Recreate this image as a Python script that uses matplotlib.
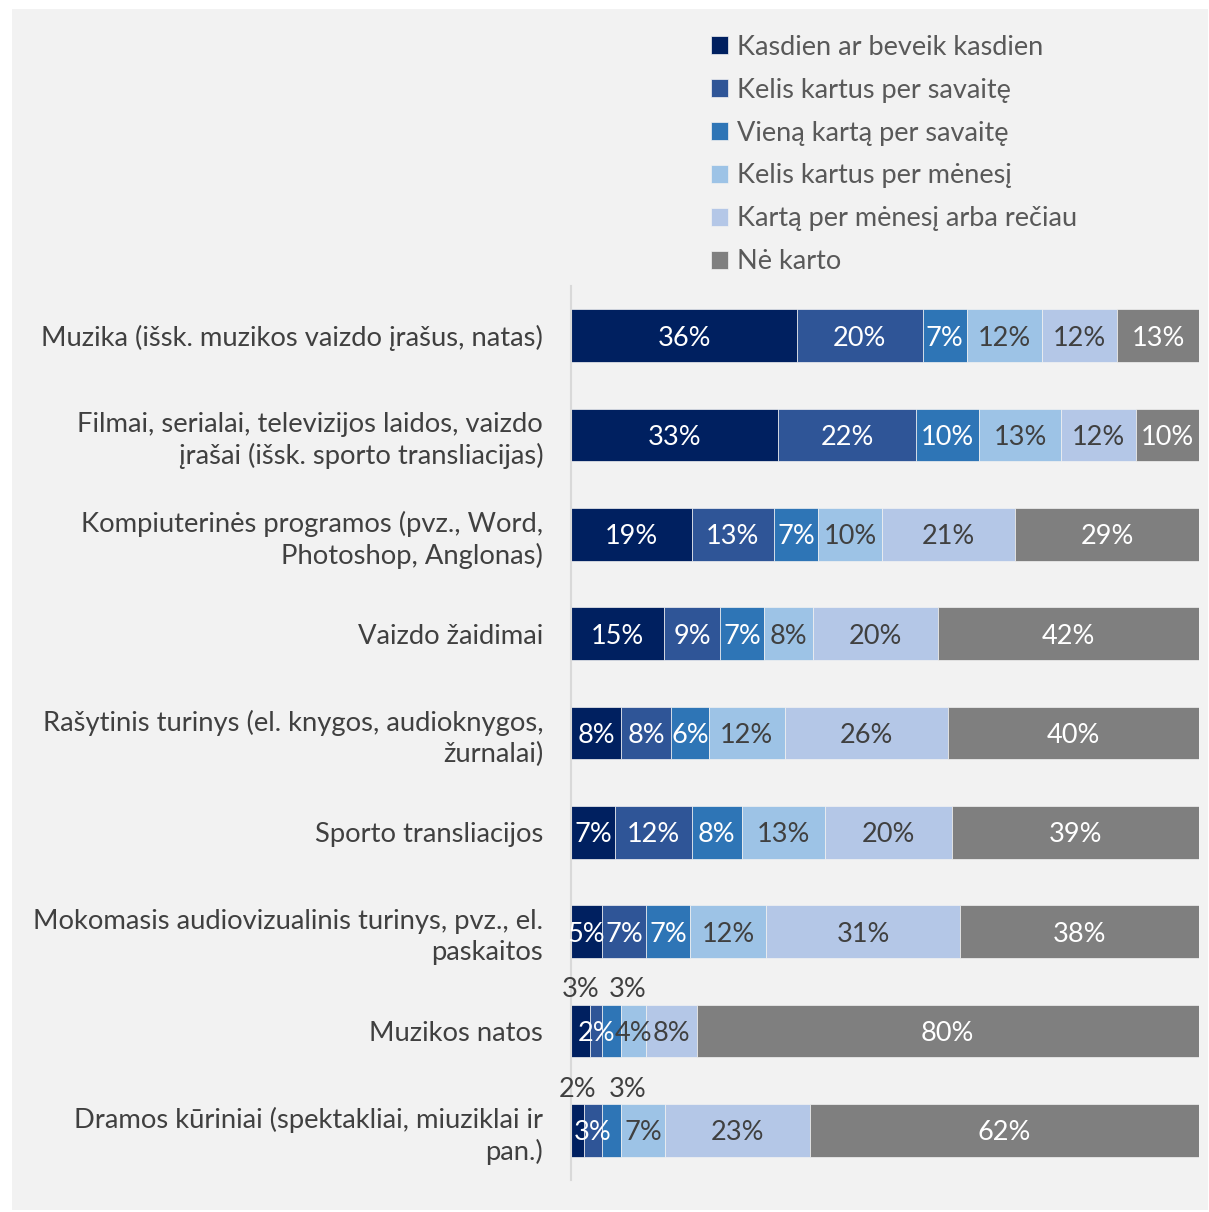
import numpy as np
import matplotlib.pyplot as plt
from matplotlib.patches import Rectangle

plt.rcParams['font.family'] = ['Lato', 'DejaVu Sans']

# Turinio rusys (is virsaus i apacia)
kategorijos = [
    "Muzika (išsk. muzikos vaizdo įrašus, natas)",
    "Filmai, serialai, televizijos laidos, vaizdo\nįrašai (išsk. sporto transliacijas)",
    "Kompiuterinės programos (pvz., Word,\nPhotoshop, Anglonas)",
    "Vaizdo žaidimai",
    "Rašytinis turinys (el. knygos, audioknygos,\nžurnalai)",
    "Sporto transliacijos",
    "Mokomasis audiovizualinis turinys, pvz., el.\npaskaitos",
    "Muzikos natos",
    "Dramos kūriniai (spektakliai, miuziklai ir\npan.)",
]

serijos = [
    "Kasdien ar beveik kasdien",
    "Kelis kartus per savaitę",
    "Vieną kartą per savaitę",
    "Kelis kartus per mėnesį",
    "Kartą per mėnesį arba rečiau",
    "Nė karto",
]

kasdien = [36, 33, 19, 15, 8, 7, 5, 3, 2]
kelis_sav = [20, 22, 13, 9, 8, 12, 7, 2, 3]
viena_sav = [7, 10, 7, 7, 6, 8, 7, 3, 3]
kelis_men = [12, 13, 10, 8, 12, 13, 12, 4, 7]
karta_men = [12, 12, 21, 20, 26, 20, 31, 8, 23]
ne_karto = [13, 10, 29, 42, 40, 39, 38, 80, 62]

spalvos = ['#002060', '#2F5597', '#2E75B6', '#9DC3E6', '#B4C7E7', '#7F7F7F']
teksto_spalvos = ['white', 'white', 'white', '#404040', '#404040', 'white']

duomenys = np.array([kasdien, kelis_sav, viena_sav, kelis_men, karta_men, ne_karto], dtype=float)
# 100% sudetine juosta
proc = duomenys / duomenys.sum(axis=0) * 100

# etiketes virs juostos (eilute, serija)
virs = {(7, 0), (7, 2), (8, 0), (8, 2)}

fig = plt.figure(figsize=(12.09, 12.12), dpi=100)
fig.patch.set_facecolor('white')
fig.patches.append(Rectangle((12 / 1209, 2 / 1212), 1196 / 1209, 1201 / 1212,
                             transform=fig.transFigure, facecolor='#F2F2F2',
                             edgecolor='none', zorder=-5))

ax = fig.add_axes([571 / 1209, 1 - 1180 / 1212, 628 / 1209, 894 / 1212])
ax.set_facecolor('none')
ax.set_zorder(2)

y = np.arange(len(kategorijos))
kaire = np.zeros(len(kategorijos))
for i in range(len(serijos)):
    ax.barh(y, proc[i], left=kaire, height=0.53, color=spalvos[i],
            edgecolor='#F2F2F2', linewidth=0.5, label=serijos[i])
    for j in range(len(kategorijos)):
        tekstas = f"{int(duomenys[i, j])}%"
        cx = kaire[j] + proc[i, j] / 2
        if (j, i) in virs:
            if i == 2:
                cx += 2.5
            ax.text(cx, y[j] - 0.44, tekstas, ha='center', va='center_baseline',
                    fontsize=19.5, color='#404040')
        else:
            ax.text(cx, y[j], tekstas, ha='center', va='center_baseline',
                    fontsize=19.5, color=teksto_spalvos[i])
    kaire += proc[i]

ax.set_xlim(0, 100)
ax.set_ylim(len(kategorijos) - 0.5, -0.5)
ax.set_yticks(y)
ax.set_yticklabels(kategorijos, fontsize=19.7, color='#404040', linespacing=1.3)
ax.tick_params(axis='y', length=0, pad=20)
ax.set_xticks([])
for s in ['top', 'right', 'bottom']:
    ax.spines[s].set_visible(False)
ax.spines['left'].set_color('#D9D9D9')
ax.spines['left'].set_linewidth(1.5)

fig.legend(loc='upper left', bbox_to_anchor=(700 / 1209, 1 - 24 / 1212),
           frameon=False, fontsize=19.5, labelcolor='#595959',
           handlelength=0.65, handleheight=0.65, handletextpad=0.3,
           labelspacing=0.66, borderaxespad=0)

fig.savefig("out.png", dpi=100, facecolor='white')
